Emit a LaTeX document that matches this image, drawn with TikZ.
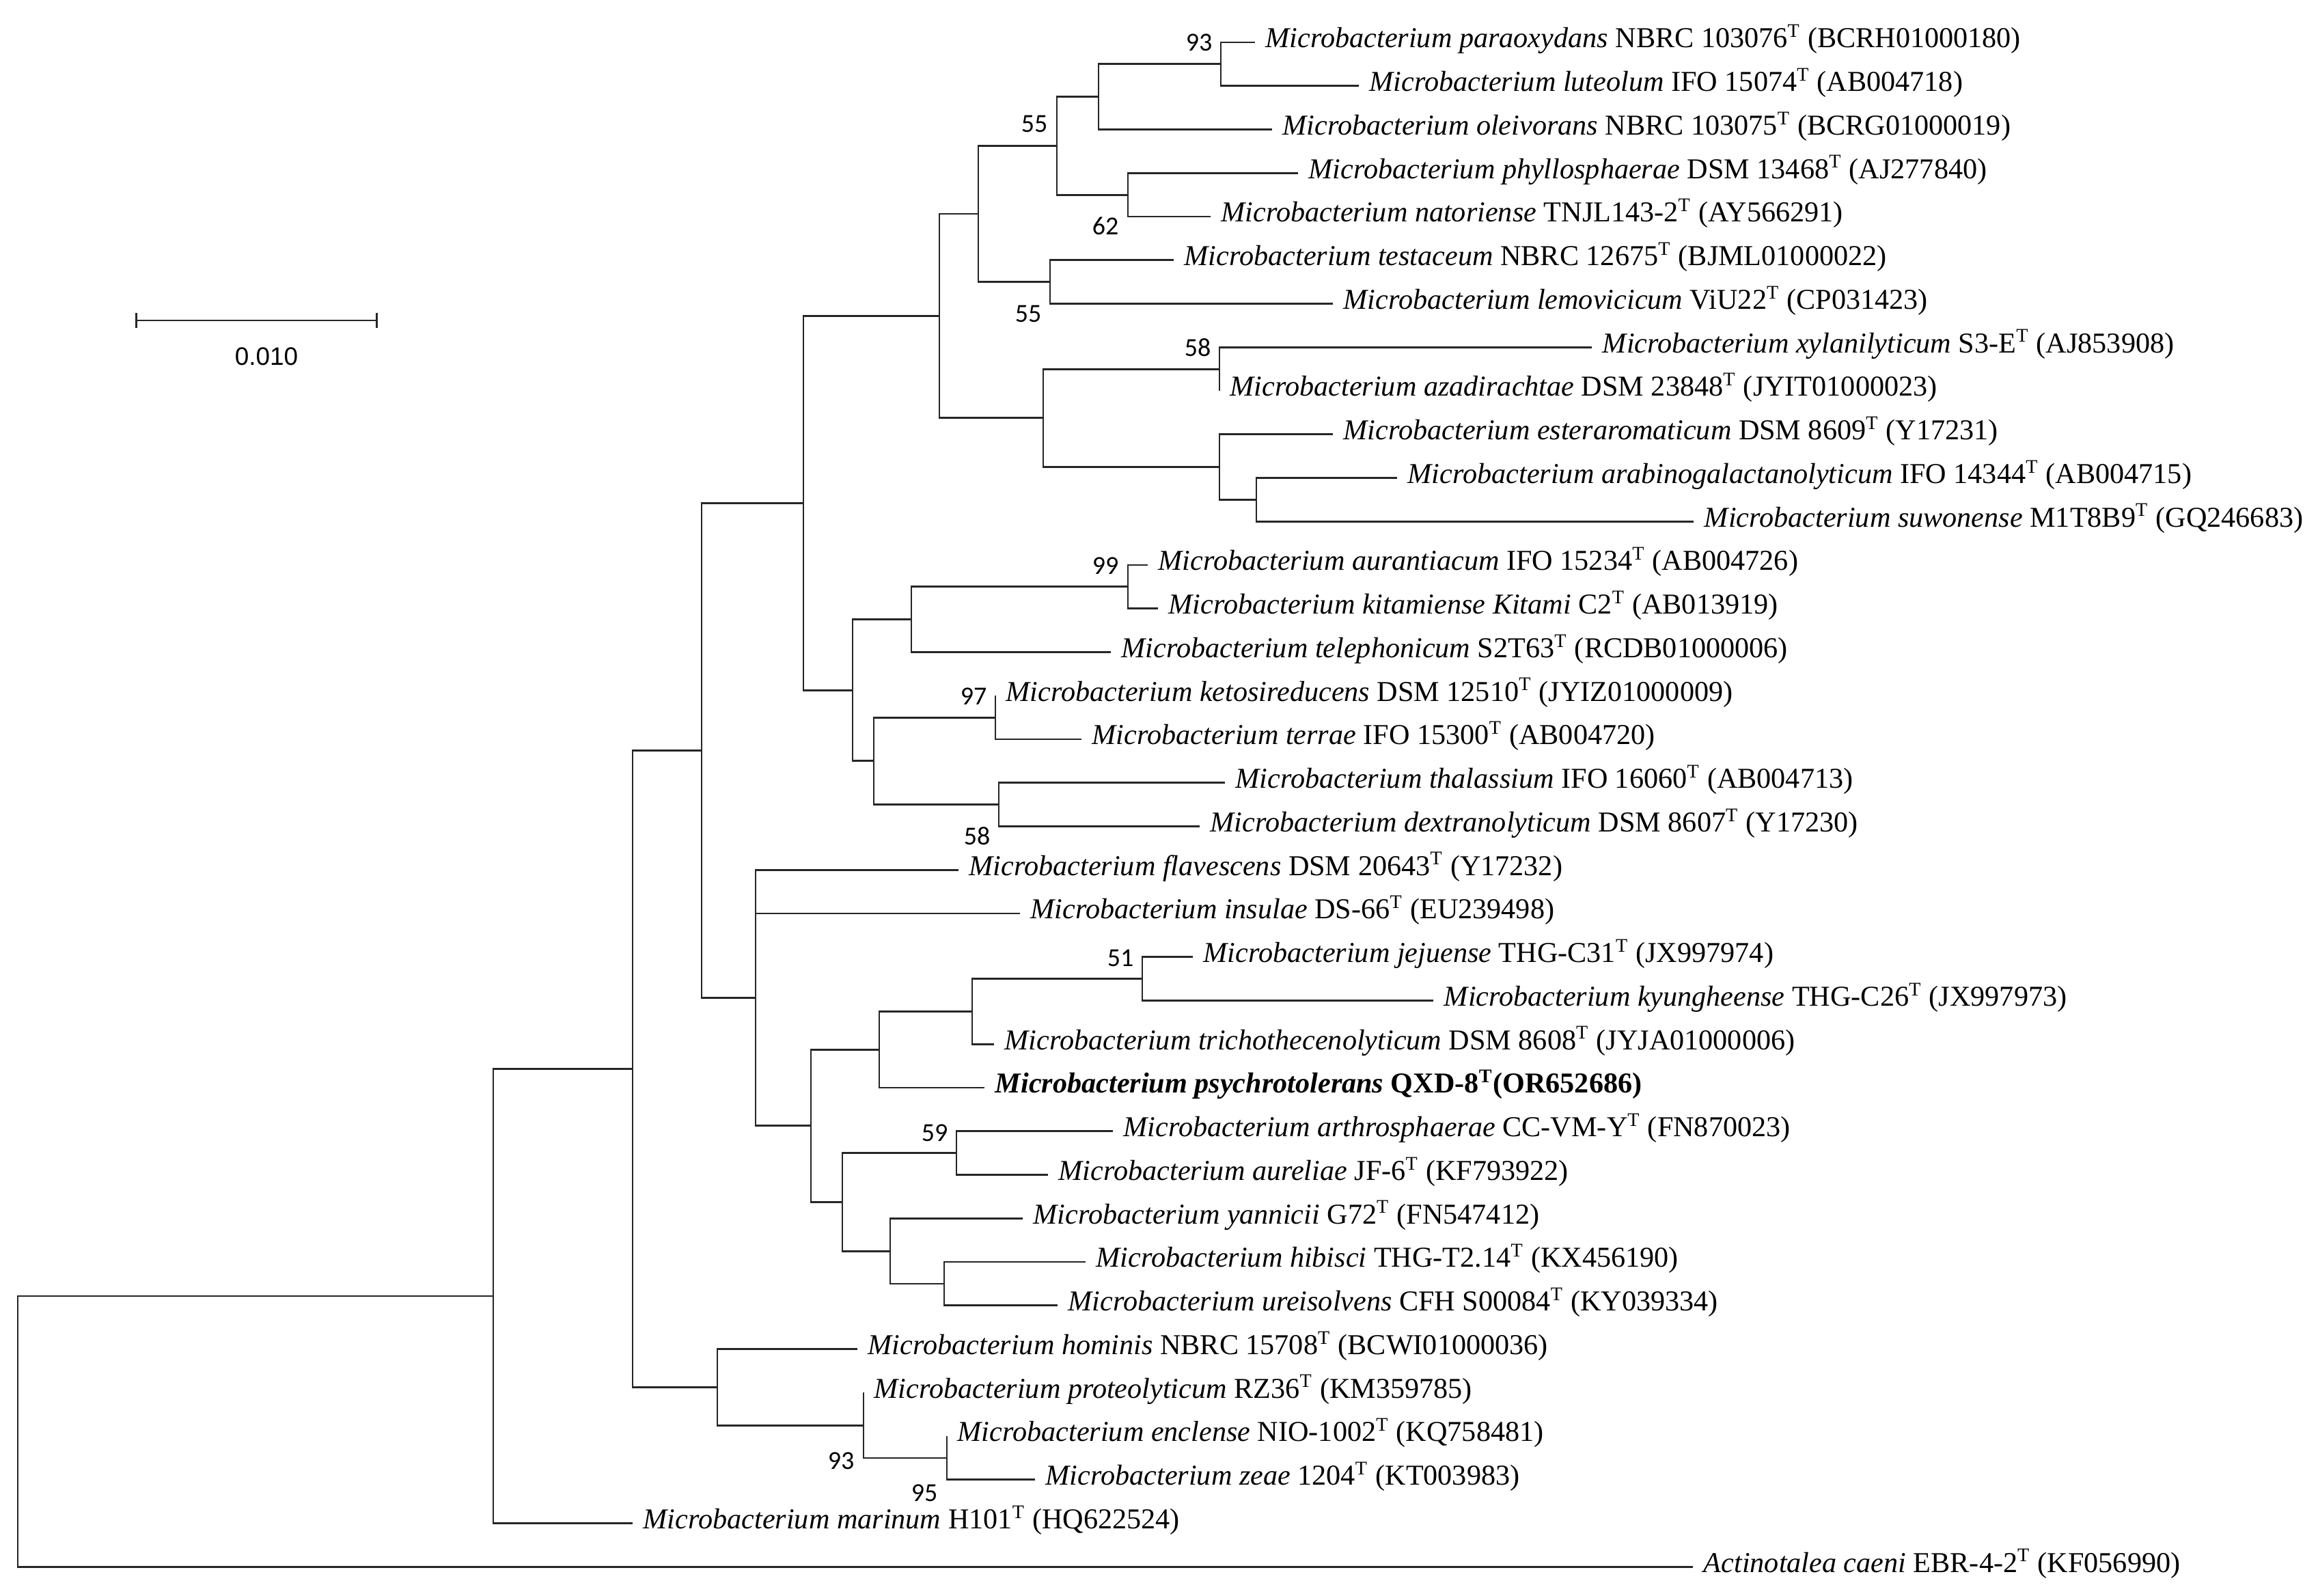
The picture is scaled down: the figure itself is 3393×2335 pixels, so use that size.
\documentclass[tikz,border=0pt]{standalone}
\usepackage{fontspec}
\setmainfont{Liberation Serif}
\newfontfamily\bootfont{Carlito}
\newfontfamily\barfont{Liberation Sans}
\usetikzlibrary{arrows.meta}
\newcommand{\ry}[1]{62+63.75*#1}
\newcommand{\tsup}{\textsuperscript{T}}
\newcommand{\mb}[1]{\textit{Microbacterium #1}}
\begin{document}
\begin{tikzpicture}[x=0.01cm,y=-0.01cm,
  branch/.style={black!85,line width=0.8pt},
  leaf/.style={anchor=west,inner xsep=4.3pt,inner ysep=0pt,text height=8pt,text depth=3.5pt,font=\fontsize{12}{14}\selectfont},
  boot/.style={inner sep=0pt,font=\bootfont\fontsize{10.8}{12}\selectfont}]
\useasboundingbox (0,0) rectangle (3393,2335);
% inner nodes
\coordinate (root) at (26,{\ry{31.8916}});
\coordinate (A) at (722,{\ry{28.7832}});
\coordinate (B) at (926,{\ry{23.5664}});
\coordinate (C) at (1027,{\ry{16.2578}});
\coordinate (D) at (1176,{\ry{10.578125}});
\coordinate (P) at (1375,{\ry{6.28125}});
\coordinate (Q) at (1432,{\ry{3.9375}});
\coordinate (R) at (1547,{\ry{2.375}});
\coordinate (T) at (1608,{\ry{1.25}});
\coordinate (V) at (1787,{\ry{0.5}});
\coordinate (U) at (1651,{\ry{3.5}});
\coordinate (S) at (1537,{\ry{5.5}});
\coordinate (W) at (1527,{\ry{8.625}});
\coordinate (X) at (1785,{\ry{7.5}});
\coordinate (Y) at (1785,{\ry{9.75}});
\coordinate (Z) at (1839,{\ry{10.5}});
\coordinate (AA) at (1248,{\ry{14.875}});
\coordinate (AB) at (1334,{\ry{13.25}});
\coordinate (AD) at (1651,{\ry{12.5}});
\coordinate (AC) at (1279,{\ry{16.5}});
\coordinate (AE) at (1457,{\ry{15.5}});
\coordinate (AF) at (1462,{\ry{17.5}});
\coordinate (E) at (1106,{\ry{21.9375}});
\coordinate (G) at (1187,{\ry{24.875}});
\coordinate (H) at (1287,{\ry{23.125}});
\coordinate (I) at (1423,{\ry{22.25}});
\coordinate (J) at (1672,{\ry{21.5}});
\coordinate (K) at (1233,{\ry{26.625}});
\coordinate (L) at (1400,{\ry{25.5}});
\coordinate (M) at (1303,{\ry{27.75}});
\coordinate (N) at (1382,{\ry{28.5}});
\coordinate (O) at (1050,{\ry{30.875}});
\coordinate (OP) at (1264,{\ry{31.75}});
\coordinate (OQ) at (1386,{\ry{32.5}});
% leaves
\node[leaf] (pa) at (1837,{\ry{0}}) {\mb{paraoxydans} NBRC 103076\tsup{} (BCRH01000180)};
\node[leaf] (lu) at (1989,{\ry{1}}) {\mb{luteolum} IFO 15074\tsup{} (AB004718)};
\node[leaf] (ol) at (1862,{\ry{2}}) {\mb{oleivorans} NBRC 103075\tsup{} (BCRG01000019)};
\node[leaf] (ph) at (1900,{\ry{3}}) {\mb{phyllosphaerae} DSM 13468\tsup{} (AJ277840)};
\node[leaf] (na) at (1772,{\ry{4}}) {\mb{natoriense} TNJL143-2\tsup{} (AY566291)};
\node[leaf] (te) at (1718,{\ry{5}}) {\mb{testaceum} NBRC 12675\tsup{} (BJML01000022)};
\node[leaf] (le) at (1951,{\ry{6}}) {\mb{lemovicicum} ViU22\tsup{} (CP031423)};
\node[leaf] (xy) at (2330,{\ry{7}}) {\mb{xylanilyticum} S3-E\tsup{} (AJ853908)};
\node[leaf] (az) at (1785,{\ry{8}}) {\mb{azadirachtae} DSM 23848\tsup{} (JYIT01000023)};
\node[leaf] (es) at (1951,{\ry{9}}) {\mb{esteraromaticum} DSM 8609\tsup{} (Y17231)};
\node[leaf] (ar) at (2045,{\ry{10}}) {\mb{arabinogalactanolyticum} IFO 14344\tsup{} (AB004715)};
\node[leaf] (su) at (2479,{\ry{11}}) {\mb{suwonense} M1T8B9\tsup{} (GQ246683)};
\node[leaf] (au) at (1680,{\ry{12}}) {\mb{aurantiacum} IFO 15234\tsup{} (AB004726)};
\node[leaf] (ki) at (1695,{\ry{13}}) {\mb{kitamiense Kitami} C2\tsup{} (AB013919)};
\node[leaf] (tl) at (1626,{\ry{14}}) {\mb{telephonicum} S2T63\tsup{} (RCDB01000006)};
\node[leaf] (ke) at (1457,{\ry{15}}) {\mb{ketosireducens} DSM 12510\tsup{} (JYIZ01000009)};
\node[leaf] (tr) at (1583,{\ry{16}}) {\mb{terrae} IFO 15300\tsup{} (AB004720)};
\node[leaf] (th) at (1793,{\ry{17}}) {\mb{thalassium} IFO 16060\tsup{} (AB004713)};
\node[leaf] (de) at (1756,{\ry{18}}) {\mb{dextranolyticum} DSM 8607\tsup{} (Y17230)};
\node[leaf] (fl) at (1403,{\ry{19}}) {\mb{flavescens} DSM 20643\tsup{} (Y17232)};
\node[leaf] (in) at (1493,{\ry{20}}) {\mb{insulae} DS-66\tsup{} (EU239498)};
\node[leaf] (je) at (1746,{\ry{21}}) {\mb{jejuense} THG-C31\tsup{} (JX997974)};
\node[leaf] (ky) at (2098,{\ry{22}}) {\mb{kyungheense} THG-C26\tsup{} (JX997973)};
\node[leaf] (tc) at (1455,{\ry{23}}) {\mb{trichothecenolyticum} DSM 8608\tsup{} (JYJA01000006)};
\node[leaf] (ps) at (1441,{\ry{24}}) {\textbf{\mb{psychrotolerans} QXD-8\tsup(OR652686)}};
\node[leaf] (at) at (1629,{\ry{25}}) {\mb{arthrosphaerae} CC-VM-Y\tsup{} (FN870023)};
\node[leaf] (ae) at (1534,{\ry{26}}) {\mb{aureliae} JF-6\tsup{} (KF793922)};
\node[leaf] (ya) at (1497,{\ry{27}}) {\mb{yannicii} G72\tsup{} (FN547412)};
\node[leaf] (hi) at (1589,{\ry{28}}) {\mb{hibisci} THG-T2.14\tsup{} (KX456190)};
\node[leaf] (ur) at (1548,{\ry{29}}) {\mb{ureisolvens} CFH S00084\tsup{} (KY039334)};
\node[leaf] (ho) at (1255,{\ry{30}}) {\mb{hominis} NBRC 15708\tsup{} (BCWI01000036)};
\node[leaf] (pr) at (1264,{\ry{31}}) {\mb{proteolyticum} RZ36\tsup{} (KM359785)};
\node[leaf] (en) at (1386,{\ry{32}}) {\mb{enclense} NIO-1002\tsup{} (KQ758481)};
\node[leaf] (ze) at (1515,{\ry{33}}) {\mb{zeae} 1204\tsup{} (KT003983)};
\node[leaf] (ma) at (926,{\ry{34}}) {\mb{marinum} H101\tsup{} (HQ622524)};
\node[leaf] (ac) at (2478,{\ry{35}}) {\textit{Actinotalea caeni} EBR-4-2\tsup{} (KF056990)};
% branches
\draw[branch] (root) |- (A); \draw[branch] (root) |- (ac.west);
\draw[branch] (A) |- (B); \draw[branch] (A) |- (ma.west);
\draw[branch] (B) |- (C); \draw[branch] (B) |- (O);
\draw[branch] (C) |- (D); \draw[branch] (C) |- (E);
\draw[branch] (D) |- (P); \draw[branch] (D) |- (AA);
\draw[branch] (P) |- (Q); \draw[branch] (P) |- (W);
\draw[branch] (Q) |- (R); \draw[branch] (Q) |- (S);
\draw[branch] (R) |- (T); \draw[branch] (R) |- (U);
\draw[branch] (T) |- (V); \draw[branch] (T) |- (ol.west);
\draw[branch] (V) |- (pa.west); \draw[branch] (V) |- (lu.west);
\draw[branch] (U) |- (ph.west); \draw[branch] (U) |- (na.west);
\draw[branch] (S) |- (te.west); \draw[branch] (S) |- (le.west);
\draw[branch] (W) |- (X); \draw[branch] (W) |- (Y);
\draw[branch] (X) |- (xy.west); \draw[branch] (X) |- (az.west);
\draw[branch] (Y) |- (es.west); \draw[branch] (Y) |- (Z);
\draw[branch] (Z) |- (ar.west); \draw[branch] (Z) |- (su.west);
\draw[branch] (AA) |- (AB); \draw[branch] (AA) |- (AC);
\draw[branch] (AB) |- (AD); \draw[branch] (AB) |- (tl.west);
\draw[branch] (AD) |- (au.west); \draw[branch] (AD) |- (ki.west);
\draw[branch] (AC) |- (AE); \draw[branch] (AC) |- (AF);
\draw[branch] (AE) |- (ke.west); \draw[branch] (AE) |- (tr.west);
\draw[branch] (AF) |- (th.west); \draw[branch] (AF) |- (de.west);
\draw[branch] (E) |- (fl.west); \draw[branch] (E) |- (in.west); \draw[branch] (E) |- (G);
\draw[branch] (G) |- (H); \draw[branch] (G) |- (K);
\draw[branch] (H) |- (I); \draw[branch] (H) |- (ps.west);
\draw[branch] (I) |- (J); \draw[branch] (I) |- (tc.west);
\draw[branch] (J) |- (je.west); \draw[branch] (J) |- (ky.west);
\draw[branch] (K) |- (L); \draw[branch] (K) |- (M);
\draw[branch] (L) |- (at.west); \draw[branch] (L) |- (ae.west);
\draw[branch] (M) |- (ya.west); \draw[branch] (M) |- (N);
\draw[branch] (N) |- (hi.west); \draw[branch] (N) |- (ur.west);
\draw[branch] (O) |- (ho.west); \draw[branch] (O) |- (OP);
\draw[branch] (OP) |- (pr.west); \draw[branch] (OP) |- (OQ);
\draw[branch] (OQ) |- (en.west); \draw[branch] (OQ) |- (ze.west);
% bootstrap values
\node[boot] (bV) at (1755,62) {93};
\node[boot] (bR) at (1514,181) {55};
\node[boot] (bU) at (1618,331) {62};
\node[boot] (bS) at (1505,459) {55};
\node[boot] (bX) at (1753,509) {58};
\node[boot] (bAD) at (1618,828) {99};
\node[boot] (bAE) at (1425,1019) {97};
\node[boot] (bAF) at (1430,1224) {58};
\node[boot] (bJ) at (1640,1402) {51};
\node[boot] (bL) at (1368,1658) {59};
\node[boot] (bOP) at (1231,2138) {93};
\node[boot] (bOQ) at (1353,2185) {95};
% scale bar
\coordinate (sbl) at (198,469);
\coordinate (sbr) at (553,469);
\draw[branch,{Bar[width=6.2pt]}-{Bar[width=6.2pt]}] (sbl) -- (sbr);
\node[font=\barfont\fontsize{10.5}{12}\selectfont] (sbt) at (390,522) {0.010};
\end{tikzpicture}
\end{document}
